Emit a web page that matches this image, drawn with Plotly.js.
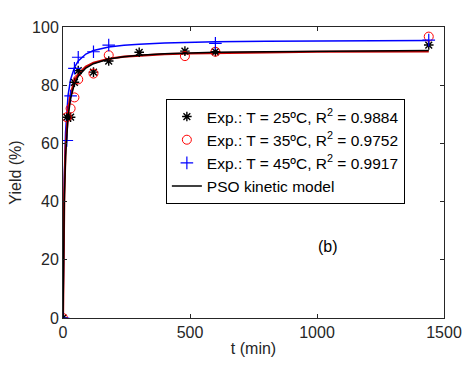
<!DOCTYPE html>
<html>
<head>
<meta charset="utf-8">
<script src="https://cdn.plot.ly/plotly-3.0.1.min.js"></script>
<style>html,body{margin:0;padding:0;background:#fff;}#chart{width:464px;height:368px;}</style>
</head>
<body>
<div id="chart"></div>
<script>
// Experimental data
const t25 = [0, 15, 30, 45, 60, 120, 180, 300, 480, 600, 1440];
const y25 = [0, 69, 69, 81, 85, 84.5, 88.3, 91.3, 91.7, 91.5, 93.8];
const t35 = [0, 15, 30, 45, 60, 120, 180, 480, 600, 1440];
const y35 = [0, 69, 72, 75.8, 82, 84, 90.3, 90, 91.5, 96.7];
const t45 = [0, 15, 30, 45, 60, 120, 180, 600, 1440];
const y45 = [0, 61, 76.3, 85.8, 89.6, 91.5, 93.8, 94.4, 95.5];

// PSO kinetic model curves
const tModel = [0, 2, 5, 10, 15, 20, 30, 45, 60, 90, 120, 180, 240, 300, 400, 500, 600, 800, 1000, 1200, 1440];
const model25 = [0, 21.3, 39.6, 55.4, 63.9, 69.2, 75.5, 80.4, 83.1, 85.9, 87.4, 89.0, 89.8, 90.3, 90.8, 91.1, 91.3, 91.5, 91.7, 91.8, 91.9];
const model35 = [0, 23.3, 42.3, 57.9, 66.1, 71.1, 76.9, 81.4, 83.8, 86.4, 87.7, 89.1, 89.8, 90.2, 90.7, 90.9, 91.1, 91.3, 91.5, 91.6, 91.6];
const model45 = [0, 27.3, 47.9, 63.8, 71.8, 76.6, 82.0, 86.1, 88.3, 90.7, 91.9, 93.1, 93.7, 94.1, 94.5, 94.8, 94.9, 95.1, 95.2, 95.3, 95.4];

const xTicks = [0, 500, 1000, 1500];
const yTicks = [0, 20, 40, 60, 80, 100];

const F = 'Liberation Sans, Arial, sans-serif';
const axisCol = '#262626';

const traces = [
  {x: tModel, y: model45, mode: 'lines', line: {color: '#0000ff', width: 1.5}, showlegend: false, hoverinfo: 'skip'},
  {x: tModel, y: model35, mode: 'lines', line: {color: '#d00000', width: 2.2}, showlegend: false, hoverinfo: 'skip'},
  {x: t25, y: y25, mode: 'markers', name: 'Exp.: T = 25ºC, R<sup>2</sup> = 0.9884',
   marker: {symbol: 'asterisk-open', size: 8, color: '#000', line: {color: '#000', width: 1.4}}},
  {x: t35, y: y35, mode: 'markers', name: 'Exp.: T = 35ºC, R<sup>2</sup> = 0.9752',
   marker: {symbol: 'circle-open', size: 9, color: '#ff0000', line: {color: '#ff0000', width: 1}}},
  {x: t45, y: y45, mode: 'markers', name: 'Exp.: T = 45ºC, R<sup>2</sup> = 0.9917',
   marker: {symbol: 'cross-thin-open', size: 9, color: '#0000ff', line: {color: '#0000ff', width: 1.2}}},
  {x: tModel, y: model25, mode: 'lines', name: 'PSO kinetic model', line: {color: '#000000', width: 1.5}}
];

const layout = {
  width: 464, height: 368,
  margin: {l: 63, r: 20, t: 27, b: 50},
  paper_bgcolor: '#fff', plot_bgcolor: '#fff',
  font: {family: F, size: 16, color: axisCol},
  showlegend: true,
  legend: {
    x: 0.270, y: 0.7526, xanchor: 'left', yanchor: 'top',
    bordercolor: '#000', borderwidth: 1, bgcolor: '#fff',
    font: {family: F, size: 15.5, color: '#000'},
    traceorder: 'normal', tracegroupgap: 0, itemwidth: 30
  },
  xaxis: {
    range: [0, 1500], tickvals: xTicks, ticktext: xTicks.map(String),
    showgrid: false, zeroline: false, showline: true, linecolor: axisCol, linewidth: 1,
    mirror: 'ticks', ticks: 'inside', ticklen: 4, tickcolor: axisCol,
    tickfont: {family: F, size: 16, color: axisCol},
    title: {text: 't (min)', font: {family: F, size: 16, color: axisCol}, standoff: 2}
  },
  yaxis: {
    range: [0, 100], tickvals: yTicks, ticktext: yTicks.map(String),
    showgrid: false, zeroline: false, showline: true, linecolor: axisCol, linewidth: 1,
    mirror: 'ticks', ticks: 'inside', ticklen: 4, tickcolor: axisCol,
    tickfont: {family: F, size: 16, color: axisCol},
    title: {text: 'Yield (%)', font: {family: F, size: 16, color: axisCol}, standoff: 6}
  },
  annotations: [
    {x: 1043, y: 24.5, xref: 'x', yref: 'y', text: '(b)', showarrow: false,
     font: {family: F, size: 16, color: '#000'}}
  ]
};

Plotly.newPlot('chart', traces, layout, {displayModeBar: false, staticPlot: true});
</script>
</body>
</html>
